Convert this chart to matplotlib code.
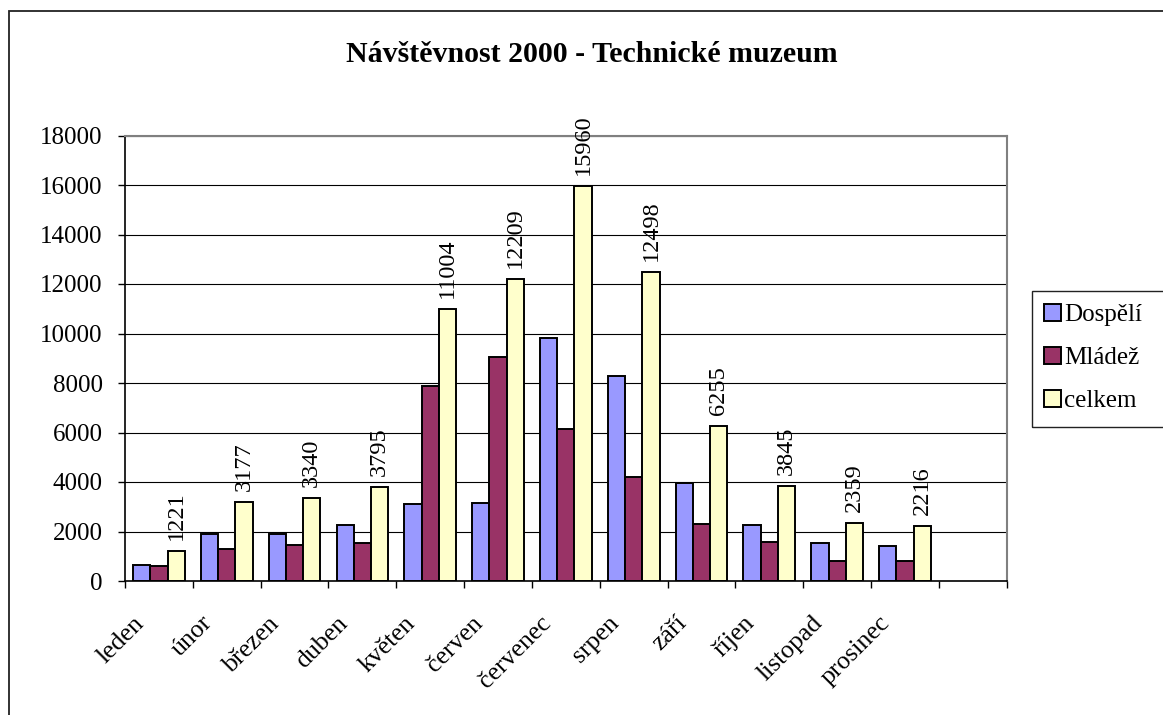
"""Návštěvnost 2000 - Technické muzeum, grouped bar chart."""
import numpy as np
import matplotlib
matplotlib.use("Agg")
import matplotlib.pyplot as plt
from matplotlib.patches import Rectangle
from matplotlib.transforms import offset_copy, blended_transform_factory

plt.rcParams["font.family"] = ["Liberation Serif", "DejaVu Serif"]

months = ["leden", "únor", "březen", "duben", "květen", "červen",
          "červenec", "srpen", "září", "říjen", "listopad", "prosinec"]
dospeli = [630, 1900, 1900, 2250, 3120, 3150, 9830, 8280, 3940, 2260, 1540, 1410]
mladez = [591, 1277, 1440, 1545, 7884, 9059, 6130, 4218, 2315, 1585, 819, 806]
celkem = [1221, 3177, 3340, 3795, 11004, 12209, 15960, 12498, 6255, 3845, 2359, 2216]
yticks = list(range(0, 18001, 2000))

series = [("Dospělí", dospeli, "#9999FF"),
          ("Mládež", mladez, "#993366"),
          ("celkem", celkem, "#FFFFCC")]

W, H = 1163, 715
fig = plt.figure(figsize=(W / 100, H / 100), dpi=100)
ax = fig.add_axes([125 / W, 1 - 581 / H, 881.7 / W, (581 - 135.5) / H])

x = np.arange(len(months)) + 0.5
bw = 0.254
handles = []
for k, (name, vals, col) in enumerate(series):
    b = ax.bar(x + (k - 1) * bw, vals, width=bw, color=col,
               edgecolor="black", linewidth=1.4, label=name, zorder=3)
    handles.append(b)

# value labels above the total bars
for xi, v in zip(x + bw, celkem):
    ax.annotate(str(v), (xi, v), xytext=(0, 8), textcoords="offset points",
                rotation=90, ha="center", va="bottom", fontsize=17.5)

ax.set_xlim(0, 13)
ax.set_ylim(0, 18000)
ax.set_yticks(yticks)
ax.set_yticklabels([str(t) for t in yticks], fontsize=18)
ax.set_xticks(np.arange(0, 14))
ax.set_xticklabels([])
ax.tick_params(axis="both", direction="out", length=5, width=1, color="black")
ax.tick_params(axis="y", pad=11)
ax.yaxis.grid(True, color="black", linewidth=0.8, zorder=0)
ax.set_axisbelow(True)
for s in ("top", "right"):
    ax.spines[s].set_color("#808080")
    ax.spines[s].set_linewidth(1.5)
for s in ("left", "bottom"):
    ax.spines[s].set_color("black")
    ax.spines[s].set_linewidth(1.2)
ax.spines["bottom"].set_zorder(4)

# rotated category labels
tr = blended_transform_factory(ax.transData, ax.transAxes)
tr = offset_copy(tr, fig=fig, x=-10, y=-31, units="points")
for xi, m in zip(x, months):
    ax.text(xi, 0, m, transform=tr, rotation=45, rotation_mode="anchor",
            ha="right", va="baseline", fontsize=18.5)

fig.text(591.5 / W, 1 - 55 / H, "Návštěvnost 2000 - Technické muzeum",
         ha="center", va="center", fontsize=21.5, fontweight="bold")

fig.legend(handles=handles, loc="upper left",
           bbox_to_anchor=(1044 / W, 1 - 304 / H), fontsize=18,
           frameon=False, handlelength=0.67, handleheight=0.67,
           handletextpad=0.12, labelspacing=0.82, borderpad=0,
           borderaxespad=0)
# legend frame runs past the right edge of the chart
fig.patches.append(Rectangle((1032.3 / W, 1 - 426.7 / H), 0.2, 135.7 / H,
                             transform=fig.transFigure, fill=False,
                             edgecolor="#222222", linewidth=1.0))

# chart area border
fig.patches.append(Rectangle((8.5 / W, -0.1), 2, 1.1 - 11 / H,
                             transform=fig.transFigure, fill=False,
                             edgecolor="#222222", linewidth=1.3))

fig.savefig("out.png", dpi=100)
